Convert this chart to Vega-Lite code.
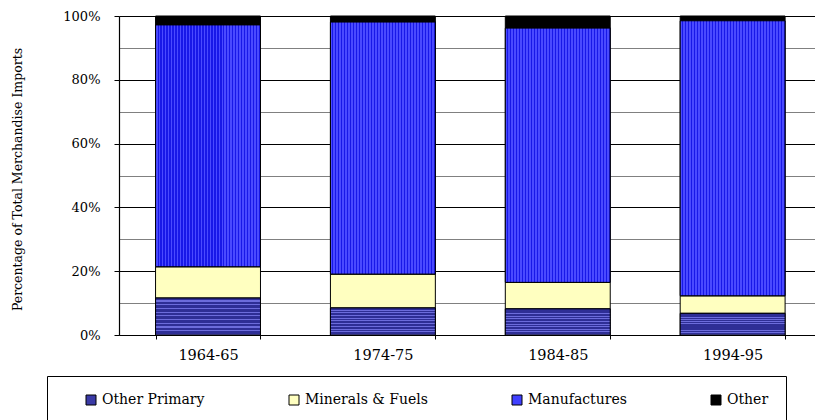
{
  "$schema": "https://vega.github.io/schema/vega-lite/v6.json",
  "width": 696,
  "height": 319,
  "autosize": {"type": "none"},
  "padding": {"left": 119, "top": 16, "right": 0, "bottom": 85},
  "background": "white",
  "config": {"font": "'DejaVu Serif', 'Liberation Serif', serif", "view": {"stroke": null}},
  "data": {"values": [
    {"period": "1964-65", "type": "Other Primary", "value": 11.6},
    {"period": "1964-65", "type": "Minerals & Fuels", "value": 9.8},
    {"period": "1964-65", "type": "Manufactures", "value": 75.8},
    {"period": "1964-65", "type": "Other", "value": 2.8},
    {"period": "1974-75", "type": "Other Primary", "value": 8.5},
    {"period": "1974-75", "type": "Minerals & Fuels", "value": 10.6},
    {"period": "1974-75", "type": "Manufactures", "value": 79.0},
    {"period": "1974-75", "type": "Other", "value": 1.9},
    {"period": "1984-85", "type": "Other Primary", "value": 8.2},
    {"period": "1984-85", "type": "Minerals & Fuels", "value": 8.3},
    {"period": "1984-85", "type": "Manufactures", "value": 79.7},
    {"period": "1984-85", "type": "Other", "value": 3.8},
    {"period": "1994-95", "type": "Other Primary", "value": 6.8},
    {"period": "1994-95", "type": "Minerals & Fuels", "value": 5.5},
    {"period": "1994-95", "type": "Manufactures", "value": 86.2},
    {"period": "1994-95", "type": "Other", "value": 1.5}
  ]},
  "transform": [
    {"stack": "value", "groupby": ["period"], "as": ["y0", "y1"]}
  ],
  "encoding": {
    "x": {
      "field": "period", "type": "nominal",
      "sort": ["1964-65", "1974-75", "1984-85", "1994-95"],
      "scale": {"paddingInner": 0.4, "paddingOuter": 0.19, "align": 0.55},
      "axis": {
        "title": null, "labelAngle": 0, "tickBand": "extent", "grid": false,
        "domainColor": "black", "domainWidth": 1.2, "tickColor": "black", "tickSize": 4,
        "labelFontSize": 14.5, "labelColor": "black", "labelPadding": 9,
        "labelFont": "'DejaVu Serif', 'Liberation Serif', serif"
      }
    },
    "y": {
      "field": "y0", "type": "quantitative",
      "scale": {"domain": [0, 100], "nice": false},
      "axis": {
        "title": "Percentage of Total Merchandise Imports",
        "values": [0, 10, 20, 30, 40, 50, 60, 70, 80, 90, 100],
        "labelExpr": "datum.value % 20 == 0 ? datum.value + '%' : ''",
        "grid": true,
        "gridColor": {"condition": {"test": "datum.value % 20 == 0", "value": "black"}, "value": "#808080"},
        "gridWidth": 1,
        "tickOpacity": {"condition": {"test": "datum.value % 20 == 0", "value": 1}, "value": 0},
        "tickSize": 5, "tickColor": "black",
        "domainColor": "black", "domainWidth": 1.2,
        "labelFontSize": 13, "labelColor": "black", "labelPadding": 14,
        "labelFont": "'DejaVu Serif', 'Liberation Serif', serif",
        "titleFont": "'DejaVu Serif', 'Liberation Serif', serif",
        "titleFontSize": 12.5, "titleFontWeight": "normal", "titleColor": "black",
        "titlePadding": 38, "titleY": 163
      }
    },
    "y2": {"field": "y1"}
  },
  "layer": [
    {
      "mark": {"type": "bar", "stroke": "black", "strokeWidth": 1},
      "encoding": {
        "color": {
          "field": "type", "type": "nominal",
          "scale": {
            "domain": ["Other Primary", "Minerals & Fuels", "Manufactures", "Other"],
            "range": ["#3a3aa6", "#ffffc0", "#4040ff", "#000000"]
          },
          "legend": {
            "title": null, "orient": "none", "direction": "horizontal",
            "legendX": -72, "legendY": 360,
            "strokeColor": "black", "padding": 17,
            "symbolType": "square", "symbolSize": 100,
            "symbolStrokeColor": "black", "symbolStrokeWidth": 1,
            "symbolOffset": 20,
            "labelFont": "'DejaVu Serif', 'Liberation Serif', serif",
            "labelFontSize": 14, "labelColor": "black",
            "labelOffset": 4, "columnPadding": 62, "labelLimit": 300
          }
        }
      }
    },
    {
      "transform": [{"filter": "datum.type == 'Manufactures'"}],
      "mark": {
        "type": "bar", "stroke": "black", "strokeWidth": 1,
        "fill": {"gradient": "linear", "x1": 0, "y1": 0, "x2": 1, "y2": 0, "stops": [
          {"offset": 0, "color": "#4a4aff"}, {"offset": 0.0186, "color": "#4a4aff"}, {"offset": 0.0186, "color": "#1818e8"}, {"offset": 0.0286, "color": "#1818e8"},
          {"offset": 0.0286, "color": "#4a4aff"}, {"offset": 0.0471, "color": "#4a4aff"}, {"offset": 0.0471, "color": "#1818e8"}, {"offset": 0.0571, "color": "#1818e8"},
          {"offset": 0.0571, "color": "#4a4aff"}, {"offset": 0.0757, "color": "#4a4aff"}, {"offset": 0.0757, "color": "#1818e8"}, {"offset": 0.0857, "color": "#1818e8"},
          {"offset": 0.0857, "color": "#4a4aff"}, {"offset": 0.1043, "color": "#4a4aff"}, {"offset": 0.1043, "color": "#1818e8"}, {"offset": 0.1143, "color": "#1818e8"},
          {"offset": 0.1143, "color": "#4a4aff"}, {"offset": 0.1329, "color": "#4a4aff"}, {"offset": 0.1329, "color": "#1818e8"}, {"offset": 0.1429, "color": "#1818e8"},
          {"offset": 0.1429, "color": "#4a4aff"}, {"offset": 0.1614, "color": "#4a4aff"}, {"offset": 0.1614, "color": "#1818e8"}, {"offset": 0.1714, "color": "#1818e8"},
          {"offset": 0.1714, "color": "#4a4aff"}, {"offset": 0.19, "color": "#4a4aff"}, {"offset": 0.19, "color": "#1818e8"}, {"offset": 0.2, "color": "#1818e8"},
          {"offset": 0.2, "color": "#4a4aff"}, {"offset": 0.2186, "color": "#4a4aff"}, {"offset": 0.2186, "color": "#1818e8"}, {"offset": 0.2286, "color": "#1818e8"},
          {"offset": 0.2286, "color": "#4a4aff"}, {"offset": 0.2471, "color": "#4a4aff"}, {"offset": 0.2471, "color": "#1818e8"}, {"offset": 0.2571, "color": "#1818e8"},
          {"offset": 0.2571, "color": "#4a4aff"}, {"offset": 0.2757, "color": "#4a4aff"}, {"offset": 0.2757, "color": "#1818e8"}, {"offset": 0.2857, "color": "#1818e8"},
          {"offset": 0.2857, "color": "#4a4aff"}, {"offset": 0.3043, "color": "#4a4aff"}, {"offset": 0.3043, "color": "#1818e8"}, {"offset": 0.3143, "color": "#1818e8"},
          {"offset": 0.3143, "color": "#4a4aff"}, {"offset": 0.3329, "color": "#4a4aff"}, {"offset": 0.3329, "color": "#1818e8"}, {"offset": 0.3429, "color": "#1818e8"},
          {"offset": 0.3429, "color": "#4a4aff"}, {"offset": 0.3614, "color": "#4a4aff"}, {"offset": 0.3614, "color": "#1818e8"}, {"offset": 0.3714, "color": "#1818e8"},
          {"offset": 0.3714, "color": "#4a4aff"}, {"offset": 0.39, "color": "#4a4aff"}, {"offset": 0.39, "color": "#1818e8"}, {"offset": 0.4, "color": "#1818e8"},
          {"offset": 0.4, "color": "#4a4aff"}, {"offset": 0.4186, "color": "#4a4aff"}, {"offset": 0.4186, "color": "#1818e8"}, {"offset": 0.4286, "color": "#1818e8"},
          {"offset": 0.4286, "color": "#4a4aff"}, {"offset": 0.4471, "color": "#4a4aff"}, {"offset": 0.4471, "color": "#1818e8"}, {"offset": 0.4571, "color": "#1818e8"},
          {"offset": 0.4571, "color": "#4a4aff"}, {"offset": 0.4757, "color": "#4a4aff"}, {"offset": 0.4757, "color": "#1818e8"}, {"offset": 0.4857, "color": "#1818e8"},
          {"offset": 0.4857, "color": "#4a4aff"}, {"offset": 0.5043, "color": "#4a4aff"}, {"offset": 0.5043, "color": "#1818e8"}, {"offset": 0.5143, "color": "#1818e8"},
          {"offset": 0.5143, "color": "#4a4aff"}, {"offset": 0.5329, "color": "#4a4aff"}, {"offset": 0.5329, "color": "#1818e8"}, {"offset": 0.5429, "color": "#1818e8"},
          {"offset": 0.5429, "color": "#4a4aff"}, {"offset": 0.5614, "color": "#4a4aff"}, {"offset": 0.5614, "color": "#1818e8"}, {"offset": 0.5714, "color": "#1818e8"},
          {"offset": 0.5714, "color": "#4a4aff"}, {"offset": 0.59, "color": "#4a4aff"}, {"offset": 0.59, "color": "#1818e8"}, {"offset": 0.6, "color": "#1818e8"},
          {"offset": 0.6, "color": "#4a4aff"}, {"offset": 0.6186, "color": "#4a4aff"}, {"offset": 0.6186, "color": "#1818e8"}, {"offset": 0.6286, "color": "#1818e8"},
          {"offset": 0.6286, "color": "#4a4aff"}, {"offset": 0.6471, "color": "#4a4aff"}, {"offset": 0.6471, "color": "#1818e8"}, {"offset": 0.6571, "color": "#1818e8"},
          {"offset": 0.6571, "color": "#4a4aff"}, {"offset": 0.6757, "color": "#4a4aff"}, {"offset": 0.6757, "color": "#1818e8"}, {"offset": 0.6857, "color": "#1818e8"},
          {"offset": 0.6857, "color": "#4a4aff"}, {"offset": 0.7043, "color": "#4a4aff"}, {"offset": 0.7043, "color": "#1818e8"}, {"offset": 0.7143, "color": "#1818e8"},
          {"offset": 0.7143, "color": "#4a4aff"}, {"offset": 0.7329, "color": "#4a4aff"}, {"offset": 0.7329, "color": "#1818e8"}, {"offset": 0.7429, "color": "#1818e8"},
          {"offset": 0.7429, "color": "#4a4aff"}, {"offset": 0.7614, "color": "#4a4aff"}, {"offset": 0.7614, "color": "#1818e8"}, {"offset": 0.7714, "color": "#1818e8"},
          {"offset": 0.7714, "color": "#4a4aff"}, {"offset": 0.79, "color": "#4a4aff"}, {"offset": 0.79, "color": "#1818e8"}, {"offset": 0.8, "color": "#1818e8"},
          {"offset": 0.8, "color": "#4a4aff"}, {"offset": 0.8186, "color": "#4a4aff"}, {"offset": 0.8186, "color": "#1818e8"}, {"offset": 0.8286, "color": "#1818e8"},
          {"offset": 0.8286, "color": "#4a4aff"}, {"offset": 0.8471, "color": "#4a4aff"}, {"offset": 0.8471, "color": "#1818e8"}, {"offset": 0.8571, "color": "#1818e8"},
          {"offset": 0.8571, "color": "#4a4aff"}, {"offset": 0.8757, "color": "#4a4aff"}, {"offset": 0.8757, "color": "#1818e8"}, {"offset": 0.8857, "color": "#1818e8"},
          {"offset": 0.8857, "color": "#4a4aff"}, {"offset": 0.9043, "color": "#4a4aff"}, {"offset": 0.9043, "color": "#1818e8"}, {"offset": 0.9143, "color": "#1818e8"},
          {"offset": 0.9143, "color": "#4a4aff"}, {"offset": 0.9329, "color": "#4a4aff"}, {"offset": 0.9329, "color": "#1818e8"}, {"offset": 0.9429, "color": "#1818e8"},
          {"offset": 0.9429, "color": "#4a4aff"}, {"offset": 0.9614, "color": "#4a4aff"}, {"offset": 0.9614, "color": "#1818e8"}, {"offset": 0.9714, "color": "#1818e8"},
          {"offset": 0.9714, "color": "#4a4aff"}, {"offset": 0.99, "color": "#4a4aff"}, {"offset": 0.99, "color": "#1818e8"}, {"offset": 1, "color": "#1818e8"}
        ]}
      }
    },
    {
      "transform": [{"filter": "datum.type == 'Other Primary'"}],
      "mark": {
        "type": "bar", "stroke": "black", "strokeWidth": 1,
        "fill": {"gradient": "linear", "x1": 0, "y1": 0, "x2": 0, "y2": 1, "stops": [
          {"offset": 0, "color": "#2e2e96"}, {"offset": 0.065, "color": "#2e2e96"}, {"offset": 0.065, "color": "#6c6cdc"}, {"offset": 0.1, "color": "#6c6cdc"},
          {"offset": 0.1, "color": "#2e2e96"}, {"offset": 0.165, "color": "#2e2e96"}, {"offset": 0.165, "color": "#6c6cdc"}, {"offset": 0.2, "color": "#6c6cdc"},
          {"offset": 0.2, "color": "#2e2e96"}, {"offset": 0.265, "color": "#2e2e96"}, {"offset": 0.265, "color": "#6c6cdc"}, {"offset": 0.3, "color": "#6c6cdc"},
          {"offset": 0.3, "color": "#2e2e96"}, {"offset": 0.365, "color": "#2e2e96"}, {"offset": 0.365, "color": "#6c6cdc"}, {"offset": 0.4, "color": "#6c6cdc"},
          {"offset": 0.4, "color": "#2e2e96"}, {"offset": 0.465, "color": "#2e2e96"}, {"offset": 0.465, "color": "#6c6cdc"}, {"offset": 0.5, "color": "#6c6cdc"},
          {"offset": 0.5, "color": "#2e2e96"}, {"offset": 0.565, "color": "#2e2e96"}, {"offset": 0.565, "color": "#6c6cdc"}, {"offset": 0.6, "color": "#6c6cdc"},
          {"offset": 0.6, "color": "#2e2e96"}, {"offset": 0.665, "color": "#2e2e96"}, {"offset": 0.665, "color": "#6c6cdc"}, {"offset": 0.7, "color": "#6c6cdc"},
          {"offset": 0.7, "color": "#2e2e96"}, {"offset": 0.765, "color": "#2e2e96"}, {"offset": 0.765, "color": "#6c6cdc"}, {"offset": 0.8, "color": "#6c6cdc"},
          {"offset": 0.8, "color": "#2e2e96"}, {"offset": 0.865, "color": "#2e2e96"}, {"offset": 0.865, "color": "#6c6cdc"}, {"offset": 0.9, "color": "#6c6cdc"},
          {"offset": 0.9, "color": "#2e2e96"}, {"offset": 0.965, "color": "#2e2e96"}, {"offset": 0.965, "color": "#6c6cdc"}, {"offset": 1, "color": "#6c6cdc"}
        ]}
      }
    }
  ]
}
